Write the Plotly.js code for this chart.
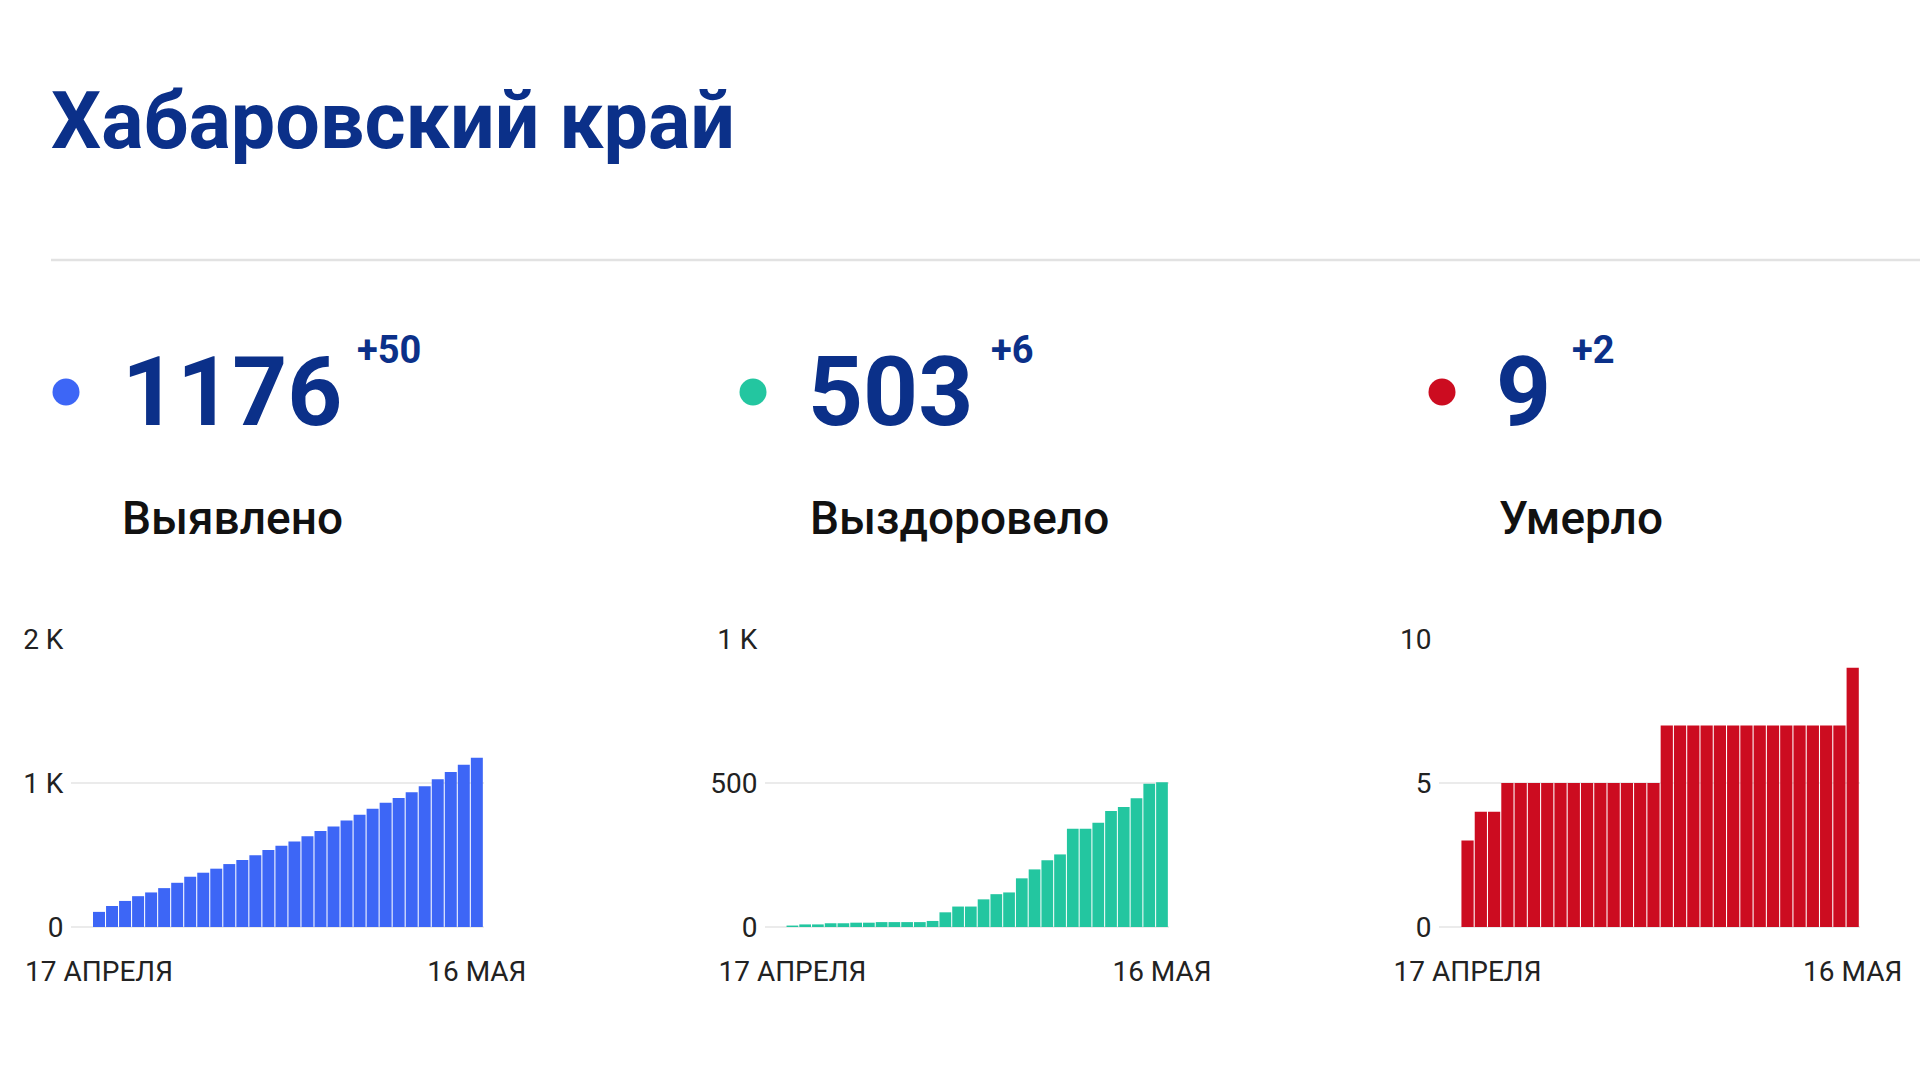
<!DOCTYPE html>
<html>
<head>
<meta charset="utf-8">
<script src="https://cdn.plot.ly/plotly-3.0.1.min.js"></script>
<style>
  html, body { margin: 0; padding: 0; background: #ffffff; }
  #chart { width: 1920px; height: 1080px; }
</style>
</head>
<body>
<div id="chart"></div>
<script>
// ---- Data ----
const regionTitle = "Хабаровский край";
const days = [
  "17.04", "18.04", "19.04", "20.04", "21.04", "22.04", "23.04", "24.04", "25.04", "26.04",
  "27.04", "28.04", "29.04", "30.04", "01.05", "02.05", "03.05", "04.05", "05.05", "06.05",
  "07.05", "08.05", "09.05", "10.05", "11.05", "12.05", "13.05", "14.05", "15.05", "16.05"
];
const firstDayLabel = "17 АПРЕЛЯ";
const lastDayLabel = "16 МАЯ";

const confirmedName = "Выявлено";
const confirmedTotal = "1176";
const confirmedDelta = "+50";
const confirmed = [105, 146, 181, 214, 240, 270, 307, 349, 377, 405,
                   437, 465, 498, 535, 565, 593, 630, 667, 698, 740,
                   779, 821, 863, 895, 935, 977, 1026, 1077, 1126, 1176];
const confirmedTickVals = [0, 1000, 2000];
const confirmedTickText = ["0", "1 K", "2 K"];

const recoveredName = "Выздоровело";
const recoveredTotal = "503";
const recoveredDelta = "+6";
const recovered = [5, 9, 9, 13, 13, 15, 15, 17, 17, 17,
                   17, 21, 51, 71, 71, 96, 114, 120, 169, 200,
                   232, 252, 341, 341, 362, 403, 417, 447, 497, 503];
const recoveredTickVals = [0, 500, 1000];
const recoveredTickText = ["0", "500", "1 K"];

const deathsName = "Умерло";
const deathsTotal = "9";
const deathsDelta = "+2";
const deaths = [3, 4, 4, 5, 5, 5, 5, 5, 5, 5,
                5, 5, 5, 5, 5, 7, 7, 7, 7, 7,
                7, 7, 7, 7, 7, 7, 7, 7, 7, 9];
const deathsTickVals = [0, 5, 10];
const deathsTickText = ["0", "5", "10"];

// ---- Styles ----
const W = 1920, H = 1080;
const px = v => v / W;
const py = v => 1 - v / H;
const navy = "#0b3089";
const blue = "#3d66f6";
const teal = "#23c6a0";
const red = "#cc0c20";
const font = "Roboto, 'Noto Sans', sans-serif";

const panels = [
  { name: confirmedName, total: confirmedTotal, delta: confirmedDelta, values: confirmed,
    color: blue, tv: confirmedTickVals, tt: confirmedTickText, range: [0, 2000],
    dom: [71, 484], dot: 66, num: 126, dlt: 358, lbl: 123 },
  { name: recoveredName, total: recoveredTotal, delta: recoveredDelta, values: recovered,
    color: teal, tv: recoveredTickVals, tt: recoveredTickText, range: [0, 1000],
    dom: [765, 1169], dot: 753, num: 812, dlt: 992, lbl: 811 },
  { name: deathsName, total: deathsTotal, delta: deathsDelta, values: deaths,
    color: red, tv: deathsTickVals, tt: deathsTickText, range: [0, 10],
    dom: [1439, 1860], dot: 1442, num: 1500, dlt: 1573, lbl: 1500 }
];

const traces = [];
const layout = {
  width: W, height: H,
  margin: { l: 0, r: 0, t: 0, b: 0 },
  paper_bgcolor: "#ffffff",
  plot_bgcolor: "#ffffff",
  showlegend: false,
  bargap: 0.08,
  font: { family: font, color: "#222222" },
  annotations: [],
  shapes: []
};

// Title
layout.annotations.push({
  xref: "paper", yref: "paper", x: px(49), y: py(121),
  xanchor: "left", yanchor: "middle", showarrow: false,
  text: "<b>" + regionTitle + "</b>",
  font: { family: font, size: 79, color: navy }
});
// Separator line
layout.shapes.push({
  type: "line", xref: "paper", yref: "paper",
  x0: px(51), x1: 1, y0: py(260), y1: py(260),
  line: { color: "#e2e2e2", width: 2.5 }
});

panels.forEach((p, i) => {
  const sfx = i === 0 ? "" : String(i + 1);
  traces.push({
    type: "bar",
    x: days,
    y: p.values,
    xaxis: "x" + sfx,
    yaxis: "y" + sfx,
    marker: { color: p.color, line: { width: 0 } },
    hoverinfo: "x+y"
  });
  layout["xaxis" + sfx] = {
    type: "category",
    domain: [px(p.dom[0]), px(p.dom[1])],
    anchor: "y" + sfx,
    range: [-2.15, 29.55],
    showgrid: false, zeroline: false, showline: false,
    ticks: "outside", ticklen: 19, tickcolor: "rgba(0,0,0,0)",
    tickvals: [days[0], days[days.length - 1]],
    ticktext: [firstDayLabel, lastDayLabel],
    tickangle: 0,
    tickfont: { family: font, size: 28, color: "#222222" },
    fixedrange: true
  };
  layout["yaxis" + sfx] = {
    domain: [1 - 927 / H, 1 - 639 / H],
    anchor: "x" + sfx,
    range: p.range,
    tickvals: p.tv, ticktext: p.tt,
    showgrid: true, gridcolor: "#ebebeb", gridwidth: 2,
    zeroline: true, zerolinecolor: "#ebebeb", zerolinewidth: 2,
    showline: false, ticks: "outside", ticklen: 1, tickcolor: "rgba(0,0,0,0)",
    tickfont: { family: font, size: 28, color: "#222222" },
    fixedrange: true
  };
  // colored dot
  layout.shapes.push({
    type: "circle", xref: "paper", yref: "paper",
    x0: px(p.dot - 13.5), x1: px(p.dot + 13.5),
    y0: py(392 + 13.5), y1: py(392 - 13.5),
    fillcolor: p.color, line: { width: 0 }
  });
  // big number
  layout.annotations.push({
    xref: "paper", yref: "paper", x: px(p.num - 6), y: py(392),
    xanchor: "left", yanchor: "middle", showarrow: false,
    text: "<b>" + p.total + "</b>",
    font: { family: font, size: 96, color: navy }
  });
  // delta
  layout.annotations.push({
    xref: "paper", yref: "paper", x: px(p.dlt - 3), y: py(350),
    xanchor: "left", yanchor: "middle", showarrow: false,
    text: "<b>" + p.delta + "</b>",
    font: { family: font, size: 38, color: navy }
  });
  // label
  layout.annotations.push({
    xref: "paper", yref: "paper", x: px(p.lbl - 3), y: py(518),
    xanchor: "left", yanchor: "middle", showarrow: false,
    text: p.name,
    font: { family: font, size: 46, color: "#111111", weight: 500 }
  });
});

Plotly.newPlot("chart", traces, layout, { displayModeBar: false, staticPlot: true });
</script>
</body>
</html>
